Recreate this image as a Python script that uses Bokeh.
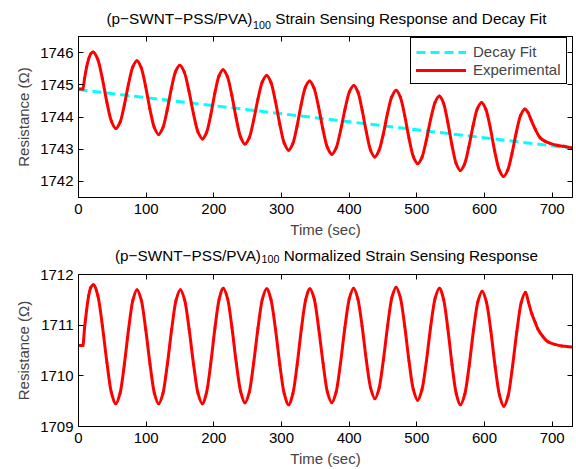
import numpy as np
from bokeh.plotting import figure
from bokeh.layouts import column
from bokeh.models import Range1d, LinearAxis, FixedTicker, Legend, LegendItem, Label
from bokeh.embed import file_html
from bokeh.resources import INLINE

FONT = "Liberation Sans"

# ---------------- data ----------------
x_ticks = [0, 100, 200, 300, 400, 500, 600, 700]
top_y_ticks = [1742, 1743, 1744, 1745, 1746]
bottom_y_ticks = [1709, 1710, 1711, 1712]

fit_time = [0, 730]
fit_value = [1744.85, 1743.03]

top_time = [0, 6.5, 9, 12, 15, 18, 21.8,
            28.5, 35.2, 41.9, 48.6, 55.3,
            61.5, 67.7, 73.9, 80.1, 86.3,
            92.7, 99.1, 105.5, 111.9, 118.3,
            124.6, 130.9, 137.1, 143.4, 149.7,
            156.4, 163.1, 169.8, 176.5, 183.2,
            189.3, 195.4, 201.4, 207.5, 213.6,
            220.1, 226.6, 233.0, 239.5, 246.0,
            252.4, 258.8, 265.2, 271.6, 278.0,
            284.5, 291.0, 297.5, 304.0, 310.5,
            316.7, 322.9, 329.0, 335.2, 341.4,
            348.0, 354.6, 361.1, 367.7, 374.3,
            380.8, 387.3, 393.8, 400.3, 406.8,
            413.0, 419.2, 425.4, 431.6, 437.8,
            444.1, 450.4, 456.7, 463.0, 469.3,
            475.7, 482.1, 488.4, 494.8, 501.2,
            507.6, 514.0, 520.4, 526.8, 533.2,
            539.4, 545.6, 551.8, 558.0, 564.2,
            570.5, 576.8, 583.0, 589.3, 595.6,
            602.1, 608.6, 615.0, 621.5, 628.0,
            634.3, 640.6, 647.0, 653.3, 659.6,
            664, 669, 675, 682, 689, 697, 707, 717, 730]

top_value = [1744.87, 1744.87, 1745.20, 1745.55, 1745.80, 1745.96, 1746.02,
             1745.79, 1745.20, 1744.46, 1743.87, 1743.64,
             1743.84, 1744.37, 1745.02, 1745.55, 1745.75,
             1745.53, 1744.96, 1744.25, 1743.68, 1743.46,
             1743.66, 1744.20, 1744.87, 1745.41, 1745.61,
             1745.39, 1744.82, 1744.11, 1743.54, 1743.32,
             1743.52, 1744.06, 1744.73, 1745.27, 1745.47,
             1745.25, 1744.67, 1743.96, 1743.38, 1743.16,
             1743.36, 1743.90, 1744.56, 1745.09, 1745.29,
             1745.07, 1744.49, 1743.77, 1743.19, 1742.97,
             1743.17, 1743.71, 1744.38, 1744.92, 1745.12,
             1744.90, 1744.33, 1743.63, 1743.06, 1742.84,
             1743.04, 1743.58, 1744.24, 1744.78, 1744.98,
             1744.77, 1744.21, 1743.53, 1742.97, 1742.76,
             1742.96, 1743.47, 1744.12, 1744.63, 1744.83,
             1744.61, 1744.04, 1743.34, 1742.77, 1742.55,
             1742.75, 1743.28, 1743.93, 1744.45, 1744.65,
             1744.43, 1743.85, 1743.14, 1742.56, 1742.34,
             1742.54, 1743.07, 1743.72, 1744.25, 1744.45,
             1744.23, 1743.66, 1742.94, 1742.37, 1742.15,
             1742.35, 1742.87, 1743.53, 1744.05, 1744.25,
             1744.15, 1743.90, 1743.62, 1743.36, 1743.25, 1743.18, 1743.12, 1743.09, 1743.04]

bottom_time = [0, 6.5, 9, 12, 15, 18, 22.0,
               28.7, 35.3, 42.0, 48.6, 55.3,
               61.5, 67.8, 74.0, 80.3, 86.5,
               92.9, 99.3, 105.7, 112.1, 118.5,
               124.9, 131.3, 137.7, 144.1, 150.5,
               157.0, 163.5, 170.0, 176.5, 183.0,
               189.2, 195.4, 201.6, 207.8, 214.0,
               220.4, 226.8, 233.2, 239.6, 246.0,
               252.4, 258.8, 265.2, 271.6, 278.0,
               284.5, 291.0, 297.5, 304.0, 310.5,
               316.8, 323.1, 329.4, 335.7, 342.0,
               348.5, 354.9, 361.4, 367.8, 374.3,
               380.7, 387.2, 393.6, 400.1, 406.5,
               412.8, 419.1, 425.4, 431.7, 438.0,
               444.3, 450.5, 456.8, 463.0, 469.3,
               475.7, 482.1, 488.4, 494.8, 501.2,
               507.6, 514.0, 520.4, 526.8, 533.2,
               539.5, 545.7, 552.0, 558.2, 564.5,
               570.9, 577.3, 583.7, 590.1, 596.5,
               602.9, 609.3, 615.7, 622.1, 628.5,
               634.9, 641.3, 647.7, 654.1, 660.5,
               665, 670, 675, 679, 686, 694, 704, 714, 730]

bottom_value = [1710.60, 1710.60, 1710.95, 1711.30, 1711.58, 1711.74, 1711.80,
                1711.58, 1710.99, 1710.26, 1709.67, 1709.45,
                1709.66, 1710.23, 1710.92, 1711.49, 1711.70,
                1711.49, 1710.92, 1710.23, 1709.66, 1709.45,
                1709.66, 1710.23, 1710.92, 1711.49, 1711.70,
                1711.49, 1710.92, 1710.23, 1709.66, 1709.45,
                1709.67, 1710.24, 1710.94, 1711.51, 1711.73,
                1711.52, 1710.95, 1710.25, 1709.69, 1709.47,
                1709.68, 1710.25, 1710.94, 1711.51, 1711.72,
                1711.50, 1710.93, 1710.22, 1709.65, 1709.43,
                1709.65, 1710.22, 1710.93, 1711.50, 1711.72,
                1711.51, 1710.94, 1710.25, 1709.68, 1709.47,
                1709.68, 1710.25, 1710.95, 1711.52, 1711.73,
                1711.52, 1710.98, 1710.30, 1709.76, 1709.55,
                1709.76, 1710.31, 1710.99, 1711.54, 1711.75,
                1711.54, 1710.98, 1710.29, 1709.73, 1709.52,
                1709.73, 1710.28, 1710.97, 1711.52, 1711.73,
                1711.51, 1710.94, 1710.22, 1709.65, 1709.43,
                1709.64, 1710.20, 1710.90, 1711.46, 1711.67,
                1711.45, 1710.89, 1710.18, 1709.62, 1709.40,
                1709.61, 1710.18, 1710.87, 1711.44, 1711.65,
                1711.45, 1711.22, 1711.05, 1710.92, 1710.78, 1710.67, 1710.62, 1710.59, 1710.57]

title_head = "(p\u2212SWNT\u2212PSS/PVA)"
title_sub = "100"
top_title_tail = "Strain Sensing Response and Decay Fit"
bottom_title_tail = "Normalized Strain Sensing Response"
x_label = "Time (sec)"
y_label = "Resistance (\u03a9)"
legend_labels = ["Decay Fit", "Experimental"]


def smooth_segments(t, v):
    """Cubic Bezier control points (monotone Hermite tangents) through the read points."""
    t = np.asarray(t, float)
    v = np.asarray(v, float)
    h = np.diff(t)
    d = np.diff(v) / h
    m = np.zeros_like(v)
    m[0], m[-1] = d[0], d[-1]
    for k in range(1, len(v) - 1):
        if d[k - 1] * d[k] > 0:
            w1 = 2 * h[k] + h[k - 1]
            w2 = h[k] + 2 * h[k - 1]
            m[k] = (w1 + w2) / (w1 / d[k - 1] + w2 / d[k])
    return dict(x0=t[:-1], y0=v[:-1], x1=t[1:], y1=v[1:],
                cx0=t[:-1] + h / 3, cy0=v[:-1] + m[:-1] * h / 3,
                cx1=t[1:] - h / 3, cy1=v[1:] - m[1:] * h / 3)


def style_axis(ax, ticks, labels=True, label_standoff=6):
    ax.ticker = FixedTicker(ticks=ticks)
    ax.axis_line_color = "black"
    ax.axis_line_width = 1
    ax.major_tick_line_color = "black"
    ax.major_tick_in = 5
    ax.major_tick_out = 0
    ax.minor_tick_line_color = None
    if labels:
        ax.major_label_text_font = FONT
        ax.major_label_text_font_size = "15px"
        ax.major_label_text_color = "black"
        ax.major_label_standoff = label_standoff
    else:
        ax.major_label_text_color = None
        ax.major_label_text_font_size = "0px"
        ax.major_label_standoff = 0


def make_fig(height, y_range, y_ticks, border_top, border_bottom):
    p = figure(width=576, height=height, x_range=Range1d(0, 730), y_range=Range1d(*y_range),
               output_backend="svg", toolbar_location=None, title=None,
               min_border_left=78, min_border_right=4,
               min_border_top=border_top, min_border_bottom=border_bottom)
    p.background_fill_color = "white"
    p.border_fill_color = "white"
    p.outline_line_color = "black"
    p.grid.visible = False

    style_axis(p.xaxis[0], x_ticks, True, 6)
    p.xaxis[0].axis_label = x_label
    p.xaxis[0].axis_label_text_font = FONT
    p.xaxis[0].axis_label_text_font_size = "15px"
    p.xaxis[0].axis_label_text_font_style = "normal"
    p.xaxis[0].axis_label_standoff = 4

    style_axis(p.yaxis[0], y_ticks, True, 5)
    p.yaxis[0].axis_label = y_label
    p.yaxis[0].axis_label_text_font = FONT
    p.yaxis[0].axis_label_text_font_size = "15px"
    p.yaxis[0].axis_label_text_font_style = "normal"
    p.yaxis[0].axis_label_standoff = 5

    top_ax = LinearAxis()
    style_axis(top_ax, x_ticks, False)
    p.add_layout(top_ax, "above")
    right_ax = LinearAxis()
    style_axis(right_ax, y_ticks, False)
    p.add_layout(right_ax, "right")
    return p


def make_title(height, tail, head_x, sub_x, tail_x, base_y, sub_y):
    # frame spans the same columns as the plot frames below (x in px from frame left)
    t = figure(width=576, height=height, x_range=Range1d(0, 494), y_range=Range1d(0, height),
               output_backend="svg", toolbar_location=None, title=None,
               x_axis_type=None, y_axis_type=None,
               min_border_left=78, min_border_right=4, min_border_top=0, min_border_bottom=0)
    t.outline_line_color = None
    t.background_fill_color = "white"
    t.border_fill_color = "white"
    t.grid.visible = False
    common = dict(text_font=FONT, text_color="black",
                  text_baseline="alphabetic", text_align="left")
    t.add_layout(Label(x=head_x, y=base_y, text=title_head, text_font_size="15.3px", **common))
    t.add_layout(Label(x=sub_x, y=sub_y, text=title_sub, text_font_size="10.7px", **common))
    t.add_layout(Label(x=tail_x, y=base_y, text=tail, text_font_size="15.3px", **common))
    return t


# ---------------- top panel ----------------
t1 = make_title(35, top_title_tail, 28.0, 174.5, 196.7, 17.5, 10.5)
p1 = make_fig(205, (1741.5, 1746.5), top_y_ticks, 1, 41)
r_fit = p1.line(fit_time, fit_value, line_color="#00ffff", line_width=3, line_dash="9 5")
r_exp = p1.bezier(line_color="#ff0000", line_width=3, line_cap="round",
                  **smooth_segments(top_time, top_value))

legend = Legend(items=[LegendItem(label=legend_labels[0], renderers=[r_fit]),
                       LegendItem(label=legend_labels[1], renderers=[r_exp], index=0)],
                location=(332, 113))
legend.border_line_color = "black"
legend.border_line_width = 1
legend.border_line_alpha = 1
legend.background_fill_color = "white"
legend.background_fill_alpha = 1
legend.label_text_font = FONT
legend.label_text_font_size = "15px"
legend.padding = 5
legend.spacing = 1
legend.margin = 0
legend.glyph_width = 50
legend.glyph_height = 16
legend.label_height = 16
legend.label_standoff = 7
p1.add_layout(legend)

# ---------------- bottom panel ----------------
t2 = make_title(25, bottom_title_tail, 36.5, 183.0, 205.2, 10.5, 6.5)
p2 = make_fig(204, (1709, 1712), bottom_y_ticks, 9, 42)
p2.bezier(line_color="#ff0000", line_width=3, line_cap="round",
          **smooth_segments(bottom_time, bottom_value))

layout = column(t1, p1, t2, p2)
open("out.html", "w").write(file_html(layout, INLINE))
